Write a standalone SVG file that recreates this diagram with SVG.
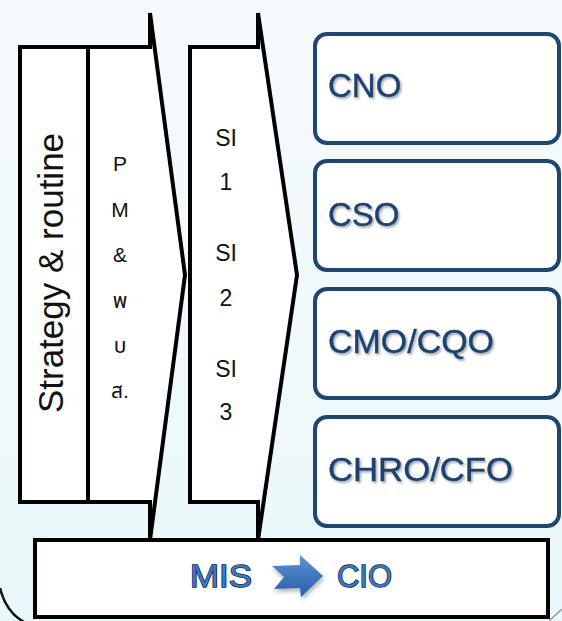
<svg xmlns="http://www.w3.org/2000/svg" width="562" height="621" viewBox="0 0 562 621">
<defs>
<linearGradient id="bg" x1="0" y1="0" x2="0" y2="1">
<stop offset="0" stop-color="#f6fafc"/>
<stop offset="1" stop-color="#e9f8fa"/>
</linearGradient>
<linearGradient id="arr" x1="0" y1="0" x2="0" y2="1">
<stop offset="0" stop-color="#5a93d6"/>
<stop offset="1" stop-color="#2a5ea8"/>
</linearGradient>
<filter id="sh" x="-20%" y="-20%" width="140%" height="160%">
<feDropShadow dx="1.5" dy="1.8" stdDeviation="1" flood-color="#000" flood-opacity="0.35"/>
</filter>
<filter id="ash" x="-30%" y="-30%" width="160%" height="170%">
<feDropShadow dx="1" dy="3" stdDeviation="2" flood-color="#000" flood-opacity="0.3"/>
</filter>
</defs>
<style>
.blk{fill:#fff;stroke:#000;stroke-width:4;stroke-linejoin:miter}
.rbox{fill:#fff;stroke:#1f4573;stroke-width:4}
.btxt{font-family:"Liberation Sans",Arial,sans-serif;font-size:33px;fill:#1c4270;stroke:#1c4270;stroke-width:0.4}
.col{font-family:"Liberation Sans","Noto Sans Thai","DejaVu Sans",sans-serif;fill:#111;text-anchor:middle}
.mis{font-family:"Liberation Sans",Arial,sans-serif;font-size:31px;fill:#3b78c2;stroke:#0b2645;stroke-width:1.4;paint-order:stroke}
</style>
<rect x="0" y="0" width="562" height="621" fill="url(#bg)"/>
<path d="M0,588 Q6,612 24,622" fill="none" stroke="#111" stroke-width="2.5"/>
<path d="M549,621 L562,609" fill="none" stroke="#999" stroke-width="1.5"/>

<g id="strategy">
<rect class="blk" x="20" y="47" width="68" height="455"/>
<text class="col" font-size="35" transform="translate(63,273) rotate(-90)">Strategy &amp; routine</text>
</g>

<g id="pm">
<path class="blk" d="M88,47 L150,47 L150,13 L185,275 L150,540 L150,502 L88,502 Z"/>
<g class="col" font-size="21">
<text x="120" y="171">P</text>
<text x="120" y="217">M</text>
<text x="120" y="262">&amp;</text>
<text x="120" y="308">พ</text>
<text x="120" y="353">บ</text>
<text x="120" y="398">ส.</text>
</g>
</g>

<g id="si">
<path class="blk" d="M190,47 L258,47 L258,13 L297,275 L258,540 L258,502 L190,502 Z"/>
<g class="col" font-size="23">
<text x="226" y="146">SI</text>
<text x="226" y="190">1</text>
<text x="226" y="261">SI</text>
<text x="226" y="306">2</text>
<text x="226" y="377">SI</text>
<text x="226" y="420">3</text>
</g>
</g>

<g id="cno">
<rect class="rbox" x="315" y="34" width="244" height="109" rx="12"/>
<text class="btxt" x="328" y="97" filter="url(#sh)">CNO</text>
</g>
<g id="cso">
<rect class="rbox" x="315" y="161" width="244" height="109" rx="12"/>
<text class="btxt" x="328" y="226" filter="url(#sh)">CSO</text>
</g>
<g id="cmo">
<rect class="rbox" x="315" y="289" width="244" height="109" rx="12"/>
<text class="btxt" x="328" y="353" textLength="166" lengthAdjust="spacingAndGlyphs" filter="url(#sh)">CMO/CQO</text>
</g>
<g id="chro">
<rect class="rbox" x="315" y="417" width="244" height="109" rx="12"/>
<text class="btxt" x="328" y="481" textLength="185" lengthAdjust="spacingAndGlyphs" filter="url(#sh)">CHRO/CFO</text>
</g>

<g id="mis">
<rect class="blk" x="35" y="540" width="513" height="77"/>
<text class="mis" x="190" y="587" textLength="62" lengthAdjust="spacingAndGlyphs">MIS</text>
<text class="mis" x="337" y="587" textLength="55" lengthAdjust="spacingAndGlyphs">CIO</text>
</g>

<g id="connectors">
<path d="M272,566 L300,565 L300,555 L323,576 L301,597 L300,588 L274,589 L284,577 Z" fill="url(#arr)" filter="url(#ash)"/>
</g>
</svg>
